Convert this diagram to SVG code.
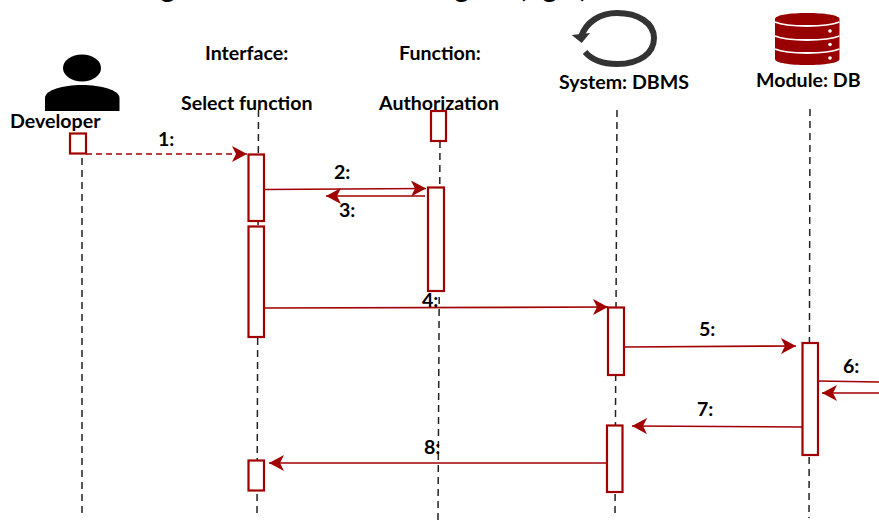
<svg xmlns="http://www.w3.org/2000/svg" width="879" height="520" viewBox="0 0 879 520">
<style>
text{font-family:"Lato","Liberation Sans",sans-serif;font-weight:700;font-size:19.600px;fill:#000}
.t{font-weight:400;font-size:30px}
.life{stroke:#222;stroke-width:1.5;stroke-dasharray:7 5;fill:none}
.box{fill:#fff;stroke:#a00000;stroke-width:2.2}
.msg{stroke:#a00000;stroke-width:1.7;fill:none;marker-end:url(#head)}
.dash{stroke-dasharray:6 4}
</style>
<defs>
<marker id="head" markerUnits="userSpaceOnUse" markerWidth="18" markerHeight="18" refX="15" refY="8" orient="auto">
<path d="M0 0L15 8L0 16L4 8Z" fill="#a00000"/>
</marker>
</defs>
<rect width="879" height="520" fill="#fff"/>
<g id="title-remnant">
<text class="t" x="160" y="-3">g</text>
<text class="t" x="454" y="-3">g</text>
<text class="t" x="518" y="-3">(</text>
<text class="t" x="542" y="-3">g</text>
<text class="t" x="580" y="-3">)</text>
</g>
<g id="lifelines">
<line class="life" x1="82" y1="158" x2="82" y2="518"/>
<line class="life" x1="258.500" y1="110" x2="257" y2="518"/>
<line class="life" x1="440" y1="141" x2="438" y2="520"/>
<line class="life" x1="617" y1="110" x2="615" y2="517"/>
<line class="life" x1="810" y1="109" x2="809" y2="518"/>
</g>
<g id="developer">
<ellipse cx="82" cy="68" rx="19" ry="13.500" fill="#000"/>
<path d="M45 111V98C45 90 63 85 82 85S119.500 90 119.500 98V111Z" fill="#000"/>
<text x="10" y="128">Developer</text>
<rect class="box" x="70" y="133.500" width="16" height="20"/>
</g>
<g id="interface">
<text x="205" y="60">Interface:</text>
<text x="181" y="110">Select function</text>
<rect class="box" x="248.500" y="154.500" width="15.500" height="66.500"/>
<rect class="box" x="248.500" y="226.500" width="15.500" height="110.500"/>
<rect class="box" x="248.500" y="460.500" width="15.500" height="30"/>
</g>
<g id="function">
<text x="399" y="60">Function:</text>
<text x="379" y="110">Authorization</text>
<rect class="box" x="431" y="111" width="15" height="30"/>
<rect class="box" x="428" y="187.500" width="16" height="103.500"/>
</g>
<g id="dbms">
<path d="M585 52C593 61 605 64 617 64C640 64 654 53 654 38C654 23 638 13 617 13C600 13 586 22 581 37" fill="none" stroke="#333" stroke-width="6"/>
<path d="M571.700 35L590 33L581.700 43Z" fill="#333"/>
<text x="559" y="89">System: DBMS</text>
<rect class="box" x="608" y="307.500" width="16" height="67.500"/>
<rect class="box" x="607" y="425.500" width="15.500" height="66.500"/>
</g>
<g id="db">
<path d="M775 19C775 15 790 13 807 13S839.500 15 839.500 19V59C839.500 63 824 65 807 65S775 63 775 59Z" fill="#990000"/>
<g fill="none" stroke="#fff" stroke-width="1.800">
<path d="M775 22C782 25 795 26 807 26S832 25 839.500 22"/>
<path d="M775 36C782 39 795 40 807 40S832 39 839.500 36"/>
<path d="M775 49C782 52 795 53 807 53S832 52 839.500 49"/>
</g>
<g fill="#fff"><circle cx="830" cy="31" r="1.800"/><circle cx="830" cy="44.500" r="1.800"/><circle cx="830" cy="58" r="1.800"/></g>
<text x="756" y="87">Module: DB</text>
<rect class="box" x="802.500" y="343" width="15.500" height="112"/>
</g>
<g id="connectors">
<line class="msg dash" x1="86" y1="154" x2="247" y2="154"/>
<line class="msg" x1="264" y1="189.500" x2="426" y2="188.500"/>
<line class="msg" x1="425" y1="196" x2="326" y2="196"/>
<line class="msg" x1="264" y1="308" x2="608" y2="307"/>
<line class="msg" x1="624" y1="347" x2="796" y2="346"/>
<line x1="818" y1="381" x2="879" y2="382" stroke="#a00000" stroke-width="1.700"/>
<line class="msg" x1="879" y1="393" x2="822" y2="393"/>
<line class="msg" x1="803" y1="427" x2="632" y2="426"/>
<line class="msg" x1="607" y1="463" x2="269" y2="463"/>
</g>
<g id="labels">
<text x="158" y="146">1:</text>
<text x="334" y="179">2:</text>
<text x="339" y="217">3:</text>
<text x="422" y="307">4:</text>
<text x="699" y="336">5:</text>
<text x="843" y="373">6:</text>
<text x="697" y="416">7:</text>
<text x="424" y="454">8:</text>
</g>
</svg>
